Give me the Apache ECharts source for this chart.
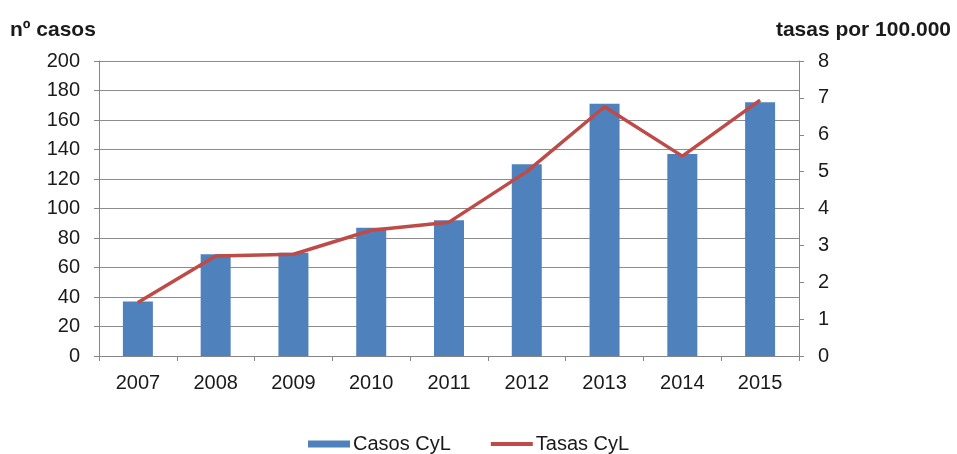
<!DOCTYPE html>
<html><head><meta charset="utf-8">
<script src="https://cdn.jsdelivr.net/npm/echarts@6/dist/echarts.min.js"></script>
<style>html,body{margin:0;padding:0;background:#fff}#c{width:957px;height:454px}</style>
</head><body><div id="c"></div>
<script>
const years = ['2007','2008','2009','2010','2011','2012','2013','2014','2015'];
const casos = [37, 69, 70, 87, 92, 130, 171, 137, 172];
const tasas = [1.45, 2.71, 2.76, 3.41, 3.63, 5.0, 6.76, 5.42, 6.94];
const chart = echarts.init(document.getElementById('c'));
const font = 'Liberation Sans, Arial, sans-serif';
const txt = '#1a1a1a';
chart.setOption({
  animation: false,
  textStyle: {fontFamily: font},
  grid: {left: 99, right: 158, top: 61, bottom: 98},
  legend: {
    top: 429, left: 303, itemGap: 40, itemWidth: 42, itemHeight: 7,
    textStyle: {fontSize: 20, color: txt, fontFamily: font, padding: [0, 0, 0, -2]},
    data: [
      {name: 'Casos CyL', icon: 'rect'},
      {name: 'Tasas CyL', icon: 'path://M0,0 M0,7 M0,1.6 L42,1.6 L42,5.4 L0,5.4 Z'}
    ]
  },
  xAxis: {
    type: 'category', data: years,
    axisLine: {lineStyle: {color: '#868686'}},
    axisTick: {show: true, lineStyle: {color: '#868686'}, length: 5},
    axisLabel: {fontSize: 20, color: txt, margin: 17, fontFamily: font}
  },
  yAxis: [
    {type: 'value', min: 0, max: 200, interval: 20, name: 'nº casos',
     nameLocation: 'end', nameGap: 20,
     nameTextStyle: {fontSize: 21, fontWeight: 'bold', color: txt, align: 'left', padding: [0,0,0,-89]},
     axisLine: {show: true, lineStyle: {color: '#868686'}},
     axisTick: {show: true, length: 5, lineStyle: {color: '#868686'}},
     axisLabel: {fontSize: 20, color: txt, margin: 19, fontFamily: font},
     splitLine: {lineStyle: {color: '#8c8c8c', width: 1}}},
    {type: 'value', min: 0, max: 8, interval: 1, name: 'tasas por 100.000',
     nameLocation: 'end', nameGap: 20,
     nameTextStyle: {fontSize: 21, fontWeight: 'bold', color: txt, align: 'right', padding: [0,-152,0,0]},
     axisLine: {show: true, lineStyle: {color: '#868686'}},
     axisTick: {show: true, length: 5, lineStyle: {color: '#868686'}},
     axisLabel: {fontSize: 20, color: txt, margin: 19, fontFamily: font},
     splitLine: {show: false}}
  ],
  series: [
    {name: 'Casos CyL', type: 'bar', data: casos, barWidth: 30, itemStyle: {color: '#4F81BD'}},
    {name: 'Tasas CyL', type: 'line', yAxisIndex: 1, data: tasas, symbol: 'none',
     lineStyle: {color: '#BE4B48', width: 3.5}, itemStyle: {color: '#BE4B48'}}
  ]
});
</script></body></html>
